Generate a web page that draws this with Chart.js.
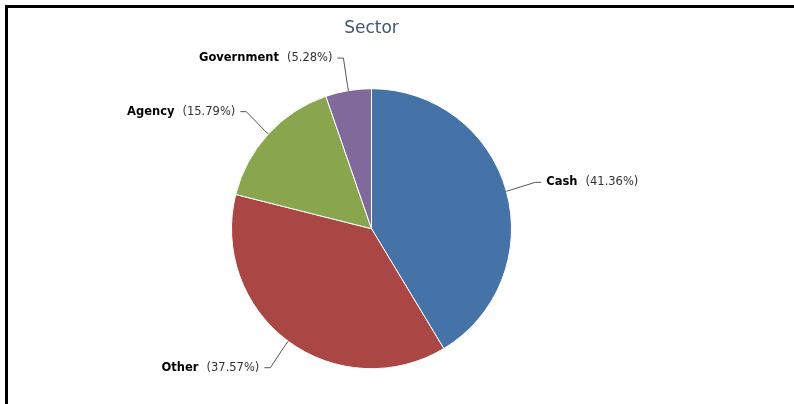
<!DOCTYPE html>
<html lang="en">
<head>
    <meta charset="UTF-8">
    <title>Sector</title>
    <style>
        html, body { margin: 0; padding: 0; background: #fff; overflow: hidden; }
        .frame {
            position: absolute; left: 5px; top: 5px;
            width: 820px; height: 420px;
            border-top: 3px solid #000; border-left: 3px solid #000;
        }
        #sectorChart { position: absolute; left: 0; top: 0; }
    </style>
</head>
<body>
    <div class="frame"></div>
    <canvas id="sectorChart" width="794" height="404"></canvas>
    <script src="https://cdn.jsdelivr.net/npm/chart.js@4/dist/chart.umd.min.js"></script>
    <script>
        var sectors = ['Cash', 'Other', 'Agency', 'Government'];
        var shares = [41.36, 37.57, 15.79, 5.28];
        var sliceColors = ['#4572A7', '#AA4643', '#89A54E', '#80699B'];

        var font = '"DejaVu Sans", Verdana, sans-serif';

        // highcharts-like outside labels with connectors
        var pieLabels = {
            id: 'pieLabels',
            afterDatasetsDraw: function (chart) {
                var ctx = chart.ctx;
                var meta = chart.getDatasetMeta(0);
                var total = shares.reduce(function (a, b) { return a + b; }, 0);
                ctx.save();
                meta.data.forEach(function (arc, i) {
                    var mid = (arc.startAngle + arc.endAngle) / 2;
                    var r = arc.outerRadius;
                    var cos = Math.cos(mid), sin = Math.sin(mid);
                    var right = cos >= 0;
                    var ex = arc.x + r * cos, ey = arc.y + r * sin;
                    var sx = arc.x + (r + 5) * cos, sy = arc.y + (r + 5) * sin;
                    var fx = arc.x + (r + 30) * cos, fy = arc.y + (r + 33) * sin;
                    var hx = fx + (right ? 6 : -6);

                    ctx.strokeStyle = '#555';
                    ctx.lineWidth = 1;
                    ctx.beginPath();
                    ctx.moveTo(ex, ey);
                    ctx.lineTo(sx, sy);
                    ctx.lineTo(fx, fy);
                    ctx.lineTo(hx, fy);
                    ctx.stroke();

                    var name = sectors[i];
                    var pct = '(' + (shares[i] / total * 100).toFixed(2) + '%)';
                    var boldFont = 'bold 11.5px ' + font;
                    var normFont = '11.5px ' + font;
                    ctx.font = boldFont;
                    var wName = ctx.measureText(name).width;
                    ctx.font = normFont;
                    var wPct = ctx.measureText(pct).width;
                    var gap = 8;
                    var tx = right ? fx + 11 : fx - 11 - wName - gap - wPct;
                    ctx.textBaseline = 'middle';
                    ctx.textAlign = 'left';
                    ctx.font = boldFont;
                    ctx.fillStyle = '#000';
                    ctx.fillText(name, tx, fy);
                    ctx.font = normFont;
                    ctx.fillStyle = '#333';
                    ctx.fillText(pct, tx + wName + gap, fy);
                });
                ctx.restore();
            }
        };

        new Chart(document.getElementById('sectorChart'), {
            type: 'pie',
            data: {
                labels: sectors,
                datasets: [{
                    data: shares,
                    backgroundColor: sliceColors,
                    borderColor: '#fff',
                    borderWidth: 1
                }]
            },
            options: {
                responsive: false,
                animation: false,
                layout: { padding: { top: 0, left: 231, right: 282, bottom: 34 } },
                plugins: {
                    legend: { display: false },
                    tooltip: { enabled: false },
                    title: {
                        display: true,
                        text: 'Sector',
                        color: '#3E576F',
                        font: { family: font, size: 17, weight: 'normal', lineHeight: 1.2 },
                        padding: { top: 18, bottom: 49 }
                    }
                }
            },
            plugins: [pieLabels]
        });
    </script>
</body>
</html>
